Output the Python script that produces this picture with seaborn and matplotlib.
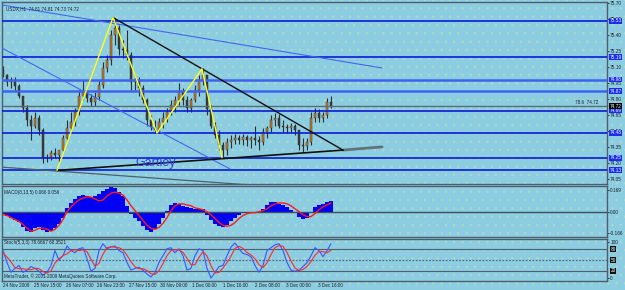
import numpy as np
import pandas as pd
import matplotlib
matplotlib.use("Agg")
import matplotlib.pyplot as plt
import matplotlib.transforms as mtransforms
from matplotlib.patches import Rectangle
import seaborn as sns

sns.set_style("white")
plt.rcParams['font.family'] = ['Liberation Sans', 'DejaVu Sans']
plt.rcParams['hatch.linewidth'] = 0.5

# ---------------- data ----------------
symbol_text = "USDX,H1  74.81 74.81 74.73 74.72"
opens = [75.07, 75.02, 74.96, 74.98, 74.92, 74.83, 74.71, 74.60, 74.55, 74.62,
         74.51, 74.25, 74.26, 74.29, 74.27, 74.32, 74.43, 74.53, 74.58, 74.68,
         74.83, 74.86, 74.81, 74.77, 74.82, 74.93, 75.09, 75.16, 75.40, 75.46,
         75.27, 75.26, 75.21, 74.96, 74.98, 74.90, 74.79, 74.60, 74.54, 74.51,
         74.58, 74.62, 74.68, 74.74, 74.79, 74.86, 74.79, 74.71, 74.79, 74.88,
         74.98, 75.02, 74.70, 74.55, 74.46, 74.37, 74.32, 74.40, 74.41, 74.43,
         74.41, 74.44, 74.41, 74.43, 74.41, 74.40, 74.49, 74.53, 74.60, 74.62,
         74.55, 74.54, 74.53, 74.55, 74.51, 74.37, 74.36, 74.40, 74.62, 74.67,
         74.62, 74.65, 74.77]
highs = [75.11, 75.03, 75.00, 75.00, 74.94, 74.83, 74.74, 74.65, 74.68, 74.65,
         74.53, 74.28, 74.32, 74.34, 74.30, 74.46, 74.60, 74.68, 74.71, 74.88,
         74.98, 74.88, 74.84, 74.86, 74.98, 75.14, 75.21, 75.44, 75.56, 75.49,
         75.35, 75.44, 75.24, 75.02, 75.00, 74.93, 74.81, 74.65, 74.60, 74.62,
         74.68, 74.71, 74.79, 74.83, 74.95, 74.90, 74.83, 74.81, 74.93, 75.02,
         75.09, 75.02, 74.74, 74.58, 74.51, 74.40, 74.43, 74.46, 74.47, 74.46,
         74.47, 74.46, 74.45, 74.55, 74.45, 74.53, 74.55, 74.65, 74.67, 74.66,
         74.60, 74.56, 74.57, 74.56, 74.51, 74.43, 74.43, 74.68, 74.71, 74.70,
         74.68, 74.81, 74.83]
lows = [75.00, 74.92, 74.90, 74.88, 74.81, 74.68, 74.55, 74.41, 74.53, 74.46,
        74.20, 74.21, 74.23, 74.25, 74.21, 74.30, 74.41, 74.49, 74.55, 74.65,
        74.79, 74.77, 74.73, 74.73, 74.79, 74.90, 75.05, 75.12, 75.30, 75.21,
        75.18, 75.16, 74.88, 74.88, 74.83, 74.76, 74.55, 74.51, 74.48, 74.48,
        74.53, 74.58, 74.65, 74.68, 74.74, 74.74, 74.68, 74.68, 74.77, 74.83,
        74.93, 74.65, 74.53, 74.43, 74.32, 74.25, 74.27, 74.34, 74.38, 74.38,
        74.37, 74.36, 74.34, 74.37, 74.32, 74.37, 74.43, 74.49, 74.55, 74.53,
        74.49, 74.48, 74.49, 74.46, 74.32, 74.30, 74.32, 74.37, 74.58, 74.58,
        74.58, 74.62, 74.71]
closes = [75.02, 74.96, 74.98, 74.92, 74.83, 74.71, 74.60, 74.55, 74.62, 74.51,
          74.25, 74.26, 74.29, 74.27, 74.32, 74.43, 74.53, 74.58, 74.68, 74.83,
          74.86, 74.81, 74.77, 74.82, 74.93, 75.09, 75.16, 75.40, 75.46, 75.27,
          75.26, 75.21, 74.96, 74.98, 74.90, 74.79, 74.60, 74.54, 74.51, 74.58,
          74.62, 74.68, 74.74, 74.79, 74.86, 74.79, 74.71, 74.79, 74.88, 74.98,
          75.02, 74.70, 74.55, 74.46, 74.37, 74.32, 74.40, 74.41, 74.43, 74.41,
          74.44, 74.41, 74.43, 74.41, 74.40, 74.49, 74.53, 74.60, 74.62, 74.55,
          74.54, 74.53, 74.55, 74.51, 74.37, 74.36, 74.40, 74.62, 74.67, 74.62,
          74.65, 74.77, 74.72]

price_ticks = [74.05, 74.20, 74.35, 74.50, 74.65, 74.80, 74.95, 75.10, 75.25, 75.40, 75.55, 75.70]
level_prices = [75.53, 75.19, 74.98, 74.87, 74.69, 74.48, 74.25, 74.13]
level_light = [False, False, True, True, False, False, False, False]
fib_price = 74.73
fib_text = "78.6  74.72"
bid_label = "74.72"

zigzag_bar = [13.5, 27.5, 38.5, 49.75, 54.75]
zigzag_price = [74.13, 75.56, 74.48, 75.08, 74.25]
res_bar = [27.5, 85.0]
res_price = [75.56, 74.32]
sup_bar = [13.5, 85.0]
sup_price = [74.13, 74.32]
sup_ext_bar = [85.0, 94.75]
sup_ext_price = [74.32, 74.35]
chan1_bar = [0.0, 94.75]
chan1_price = [75.676, 75.088]
chan2_bar = [-0.75, 56.75]
chan2_price = [75.284, 74.144]
chan3_bar = [-0.75, 61.75]
chan3_price = [74.162, 73.994]
pattern_label = "Gartley"
pattern_bar = 38.25
pattern_price = 74.20

macd_hist = [-0.015, -0.030, -0.046, -0.061, -0.084, -0.122, -0.152, -0.160, -0.129, -0.122,
             -0.144, -0.160, -0.152, -0.129, -0.099, -0.046, 0.030, 0.068, 0.099, 0.122,
             0.129, 0.122, 0.114, 0.122, 0.137, 0.160, 0.175, 0.190, 0.182, 0.152,
             0.122, 0.046, -0.015, -0.046, -0.076, -0.114, -0.144, -0.160, -0.137, -0.099,
             -0.046, 0.008, 0.053, 0.068, 0.061, 0.046, 0.038, 0.030, 0.023, 0.023,
             0.023, -0.023, -0.068, -0.099, -0.114, -0.122, -0.106, -0.076, -0.046, -0.023,
             -0.008, 0.000, -0.008, -0.008, 0.000, 0.023, 0.053, 0.076, 0.076, 0.061,
             0.053, 0.038, 0.015, -0.008, -0.038, -0.053, -0.046, -0.008, 0.038, 0.053,
             0.061, 0.076, 0.084]
macd_signal = [-0.023, -0.030, -0.046, -0.061, -0.076, -0.099, -0.129, -0.152, -0.144, -0.129,
               -0.129, -0.137, -0.152, -0.137, -0.106, -0.061, 0.000, 0.038, 0.068, 0.091,
               0.106, 0.114, 0.114, 0.099, 0.084, 0.091, 0.122, 0.144, 0.152, 0.144,
               0.129, 0.091, 0.046, 0.008, -0.030, -0.068, -0.106, -0.129, -0.137, -0.122,
               -0.091, -0.046, 0.008, 0.046, 0.061, 0.061, 0.053, 0.046, 0.030, 0.023,
               0.015, 0.000, -0.023, -0.053, -0.084, -0.106, -0.114, -0.106, -0.084, -0.053,
               -0.030, -0.015, -0.008, -0.008, 0.000, 0.008, 0.023, 0.046, 0.061, 0.068,
               0.068, 0.061, 0.046, 0.023, 0.000, -0.023, -0.038, -0.038, -0.015, 0.015,
               0.038, 0.053, 0.068]
macd_text = "MACD(8,13,5) 0.066 0.056"
macd_ticks = [0.169, 0.0, -0.166]
macd_tick_labels = ["0.169", "0.00", "-0.166"]

stoch_k = [76, 43, 16, 27, 35, 16, 22, 32, 27, 19, 8, 16, 35, 76, 49, 62, 89, 76, 70, 81,
           84, 54, 19, 27, 76, 95, 81, 86, 89, 76, 70, 43, 22, 27, 30, 22, 11, 3, 16, 43,
           62, 81, 84, 70, 81, 62, 22, 27, 62, 81, 76, 27, 0, 16, 32, 35, 62, 86, 97, 81,
           68, 65, 59, 35, 16, 35, 76, 84, 92, 95, 76, 43, 22, 19, 22, 32, 43, 62, 84, 76,
           59, 76, 95]
stoch_d = [70, 58, 45, 29, 26, 26, 24, 23, 27, 26, 18, 14, 20, 42, 53, 62, 67, 76, 78, 76,
           78, 73, 52, 33, 41, 66, 84, 87, 85, 84, 78, 63, 45, 31, 26, 26, 21, 12, 10, 21,
           40, 62, 76, 78, 78, 71, 55, 37, 37, 57, 73, 61, 34, 14, 16, 28, 43, 61, 82, 88,
           82, 71, 64, 53, 37, 29, 42, 65, 84, 90, 88, 71, 47, 28, 21, 24, 32, 46, 63, 74,
           73, 70, 77]
stoch_text = "Stoch(5,3,3) 78.6667 68.3521"
stoch_levels = [80, 50, 20]
copyright_text = "MetaTrader, \u00a9 2001-2009 MetaQuotes Software Corp."

date_labels = ["24 Nov 2009", "25 Nov 15:00", "26 Nov 07:00", "26 Nov 23:00", "27 Nov 15:00",
               "30 Nov 09:00", "1 Dec 00:00", "1 Dec 16:00", "2 Dec 08:00", "3 Dec 00:00",
               "3 Dec 16:00"]

# ---------------- style ----------------
BG = "#8dcde2"
DOT = "#afd9c6"
FRAME = "#4d5d6b"
TXT = "#15202c"
FS = 3.3     # small MetaTrader-like text
FSY = 3.4    # price scale

W, H = 625, 290
fig = plt.figure(figsize=(W / 100, H / 100), dpi=100)
fig.patch.set_facecolor(BG)
fig.patches.append(Rectangle((0, 0), 1, 1, transform=fig.transFigure, facecolor="none",
                             edgecolor=DOT, hatch="..", lw=0, zorder=-10))


def ax_at(x0, y0, x1, y1):
    return fig.add_axes([x0 / W, 1 - y1 / H, (x1 - x0) / W, (y1 - y0) / H])


ax1 = ax_at(2, 2, 607, 184)
ax2 = ax_at(2, 186, 607, 237)
ax3 = ax_at(2, 239, 607, 281)

idx = np.arange(len(closes))
XL = (-0.25, 151.0)

for ax in (ax1, ax2, ax3):
    ax.set_facecolor(BG)
    ax.add_patch(Rectangle((0, 0), 1, 1, transform=ax.transAxes, facecolor="none",
                           edgecolor=DOT, hatch="..", lw=0, zorder=0.5))
    ax.set_xlim(*XL)
    for s in ax.spines.values():
        s.set_color(FRAME)
        s.set_linewidth(1.0)
    ax.yaxis.tick_right()
    ax.tick_params(axis='y', labelsize=FSY, colors=TXT, length=1.5, width=0.6, pad=0.8)
    ax.tick_params(axis='x', length=0, labelbottom=False)

# ---------------- main price panel ----------------
ax1.set_ylim(74.003, 75.705)
ax1.set_yticks(price_ticks)
ax1.set_yticklabels([f"{p:.2f}" for p in price_ticks])

df = pd.DataFrame({"o": opens, "h": highs, "l": lows, "c": closes, "i": idx})
ax1.vlines(df["i"], df["l"], df["h"], color="#2e2e2e", lw=0.8, zorder=2)
bull = df["c"] >= df["o"]
body_bottom = np.minimum(df["o"], df["c"])
body_h = np.maximum(np.abs(df["c"] - df["o"]), 0.006)
ax1.bar(df["i"][bull], body_h[bull], bottom=body_bottom[bull], width=0.6,
        color="#c07a2c", edgecolor="#3a2a1a", lw=0.3, zorder=2.5)
ax1.bar(df["i"][~bull], body_h[~bull], bottom=body_bottom[~bull], width=0.6,
        color="#3c3c3c", edgecolor="#2a2a2a", lw=0.3, zorder=2.5)

tr = mtransforms.blended_transform_factory(ax1.transAxes, ax1.transData)
for p, light in zip(level_prices, level_light):
    ax1.axhline(p, color="#3d62f0" if light else "#0b1bd6", lw=1.8 if light else 1.2, zorder=3)
    ax1.text(1.004, p, f"{p:.2f}", transform=tr, fontsize=FSY, color="white", va="center",
             ha="left", zorder=6, clip_on=False,
             bbox=dict(facecolor="#1a2cf0", edgecolor="none", pad=0.3))
ax1.axhline(fib_price, color="#5a6a76", lw=1.0, zorder=3)
ax1.text(0.985, fib_price + 0.012, fib_text, transform=tr, fontsize=FS, color=TXT,
         ha="right", va="bottom", zorder=6)
ax1.text(1.004, fib_price, bid_label, transform=tr, fontsize=FSY, color="white", va="center",
         ha="left", zorder=7, clip_on=False,
         bbox=dict(facecolor="black", edgecolor="none", pad=0.3))

sns.lineplot(x=chan1_bar, y=chan1_price, ax=ax1, color="#4466ee", lw=0.8, zorder=4)
sns.lineplot(x=chan2_bar, y=chan2_price, ax=ax1, color="#4466ee", lw=0.8, zorder=4)
sns.lineplot(x=chan3_bar, y=chan3_price, ax=ax1, color="#4f5f6c", lw=0.9, zorder=4)
sns.lineplot(x=sup_ext_bar, y=sup_ext_price, ax=ax1, color="#5f7478", lw=2.0, zorder=4)
sns.lineplot(x=res_bar, y=res_price, ax=ax1, color="#111111", lw=1.0, zorder=5)
sns.lineplot(x=sup_bar, y=sup_price, ax=ax1, color="#111111", lw=1.2, zorder=5)
sns.lineplot(x=zigzag_bar, y=zigzag_price, ax=ax1, color="#ffff1a", lw=1.0, zorder=5,
             sort=False)
ax1.text(pattern_bar, pattern_price, pattern_label, fontsize=9, color="#2a3ce8",
         ha="center", va="center", zorder=6)
ax1.text(0.006, 0.978, symbol_text, transform=ax1.transAxes, fontsize=FS, color=TXT,
         ha="left", va="top", zorder=7)
ax1.set_xlabel("")
ax1.set_ylabel("")

# ---------------- MACD panel ----------------
ax2.set_ylim(-0.197, 0.2)
ax2.bar(idx, macd_hist, width=1.0, color="#0000f5", lw=0, zorder=2)
ax2.axhline(0, color="#3e4e5c", lw=1.0, zorder=3)
sns.lineplot(x=idx, y=macd_signal, ax=ax2, color="#ff1a1a", lw=1.0, zorder=4)
ax2.set_yticks(macd_ticks)
ax2.set_yticklabels(macd_tick_labels)
ax2.text(0.004, 0.93, macd_text, transform=ax2.transAxes, fontsize=FS, color=TXT,
         ha="left", va="top")
ax2.set_xlabel("")
ax2.set_ylabel("")

# ---------------- Stochastic panel ----------------
ax3.set_ylim(-8, 108)
for lv in stoch_levels:
    ax3.axhline(lv, color="#4e5e6c", lw=0.8, ls=(0, (1.5, 1.5)) if lv == 50 else "-", zorder=2)
sns.lineplot(x=idx, y=stoch_k, ax=ax3, color="#3a55ff", lw=0.8, zorder=3)
sns.lineplot(x=idx, y=stoch_d, ax=ax3, color="#ff2a2a", lw=0.8, zorder=3)
ax3.set_yticks([100, 0])
ax3.set_yticklabels(["100", "0"])
tr3 = mtransforms.blended_transform_factory(ax3.transAxes, ax3.transData)
for lv in stoch_levels:
    ax3.text(1.006, lv, str(lv), transform=tr3, fontsize=FSY, color="white", va="center",
             ha="left", clip_on=False, bbox=dict(facecolor="#111111", edgecolor="none", pad=0.3))
ax3.text(0.004, 0.97, stoch_text, transform=ax3.transAxes, fontsize=FS, color=TXT,
         ha="left", va="top")
ax3.text(0.004, 0.05, copyright_text, transform=ax3.transAxes, fontsize=FS, color=TXT,
         ha="left", va="bottom")
tick_pos = np.arange(len(date_labels)) * 7.87
ax3.set_xticks(tick_pos)
ax3.set_xticklabels(date_labels, ha="left")
ax3.tick_params(axis='x', labelbottom=True, labelsize=FS, colors=TXT, length=2, width=0.6,
                pad=1.2, direction="in")
ax3.set_xlabel("")
ax3.set_ylabel("")

fig.savefig("out.png", dpi=100, facecolor=BG)
